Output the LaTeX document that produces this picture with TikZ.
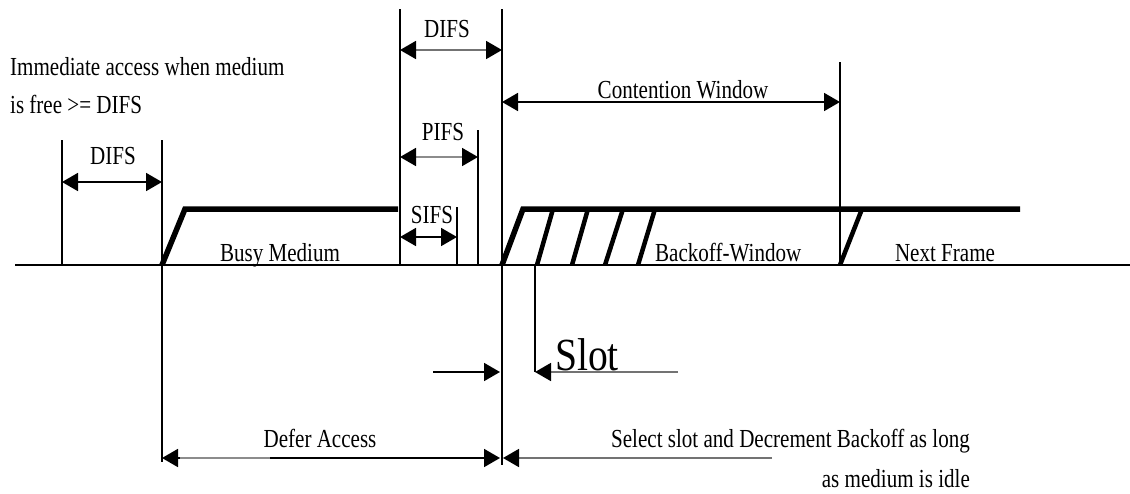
\documentclass[tikz,border=0pt]{standalone}
\usepackage{fontspec}
\setmainfont{Liberation Serif}
\usetikzlibrary{arrows.meta}
\begin{document}
\begin{tikzpicture}[x=1pt,y=-1pt,
  tick/.style={line width=1.5pt,black},
  medium/.style={line width=5.5pt,line join=miter},
  hatchline/.style={line width=4.5pt},
  dimline/.style={line width=1.8pt,{Triangle[length=16pt,width=18pt,color=black]}-{Triangle[length=16pt,width=18pt,color=black]}},
  leftarr/.style={line width=1.8pt,-{Triangle[length=16pt,width=18pt,color=black]}},
  lbl/.style={font=\fontsize{26}{28}\selectfont,xscale=0.81,inner sep=0pt},
  biglbl/.style={font=\fontsize{46}{48}\selectfont,xscale=0.86,inner sep=0pt}
]
\useasboundingbox (0,0) rectangle (1130,493);
% time axis
\coordinate (axL) at (15,265);
\coordinate (axR) at (1130,265);
\draw[line width=1.8pt] (axL) -- (axR);
% vertical marks
\coordinate (t1a) at (62,140);   \coordinate (t1b) at (62,265);
\coordinate (t2a) at (162,140);  \coordinate (t2b) at (162,462);
\coordinate (t3a) at (400,9);    \coordinate (t3b) at (400,265);
\coordinate (t4a) at (457,207);  \coordinate (t4b) at (457,265);
\coordinate (t5a) at (478,130);  \coordinate (t5b) at (478,265);
\coordinate (t6a) at (502,9);    \coordinate (t6b) at (502,465);
\coordinate (t7a) at (840,62);   \coordinate (t7b) at (840,265);
\coordinate (t8a) at (535,265);  \coordinate (t8b) at (535,372);
\foreach \t in {1,...,8} \draw[tick] (t\t a) -- (t\t b);
% busy medium
\coordinate (b0) at (162,265); \coordinate (b1) at (185,209); \coordinate (b2) at (398,209);
\draw[medium] (b0) -- (b1) -- (b2);
% backoff / next frame
\coordinate (n0) at (502,265); \coordinate (n1) at (523,209); \coordinate (n2) at (1020,209);
\draw[medium] (n0) -- (n1) -- (n2);
\foreach \i/\xa/\xb in {1/537/553,2/572/588,3/605/623,4/638/655,5/840/862}{
  \coordinate (h\i a) at (\xa,265); \coordinate (h\i b) at (\xb,209);
  \draw[hatchline] (h\i a) -- (h\i b);
}
% dimension arrows
\coordinate (d1a) at (62,182);  \coordinate (d1b) at (162,182);
\draw[dimline] (d1a) -- (d1b);
\coordinate (d2a) at (400,50);  \coordinate (d2b) at (502,50);
\draw[dimline,black!55] (d2a) -- (d2b);
\coordinate (d3a) at (400,157); \coordinate (d3b) at (478,157);
\draw[dimline,black!45] (d3a) -- (d3b);
\coordinate (d4a) at (400,237); \coordinate (d4b) at (457,237);
\draw[dimline] (d4a) -- (d4b);
\coordinate (d5a) at (502,102); \coordinate (d5b) at (840,102);
\draw[dimline] (d5a) -- (d5b);
\coordinate (d6a) at (162,458); \coordinate (d6b) at (500,458);
\draw[dimline] (d6a) -- (d6b);
\coordinate (g6a) at (180,458); \coordinate (g6b) at (270,458);
\draw[line width=1.9pt,black!45] (g6a) -- (g6b);
% one-sided arrows
\coordinate (e1a) at (433,372); \coordinate (e1b) at (500,372);
\draw[leftarr] (e1a) -- (e1b);
\coordinate (e2a) at (678,372); \coordinate (e2b) at (535,372);
\draw[leftarr,black!55] (e2a) -- (e2b);
\coordinate (e3a) at (772,458); \coordinate (e3b) at (503,458);
\draw[leftarr,black!55] (e3a) -- (e3b);
% labels
\node[lbl,anchor=base west] (imm1) at (10,75) {Immediate access when medium};
\node[lbl,anchor=base west] (imm2) at (10,113) {is free >= DIFS};
\node[lbl,anchor=base] (difsL) at (113,164) {DIFS};
\node[lbl,anchor=base] (difsT) at (447,37) {DIFS};
\node[lbl,anchor=base] (pifs) at (443,140) {PIFS};
\node[lbl,anchor=base] (sifs) at (432,223) {SIFS};
\node[lbl,anchor=base] (cw) at (683,98) {Contention Window};
\node[lbl,anchor=base] (busy) at (280,261) {Busy Medium};
\node[lbl,anchor=base west] (bow) at (655,261) {Backoff-Window};
\node[lbl,anchor=base] (next) at (945,261) {Next Frame};
\node[lbl,anchor=base] (defer) at (320,447) {Defer Access};
\node[biglbl,anchor=base west] (slot) at (555,370) {Slot};
\node[lbl,anchor=base east] (sel1) at (970,447) {Select slot and Decrement Backoff as long};
\node[lbl,anchor=base east] (sel2) at (970,487) {as medium is idle};
\end{tikzpicture}
\end{document}
